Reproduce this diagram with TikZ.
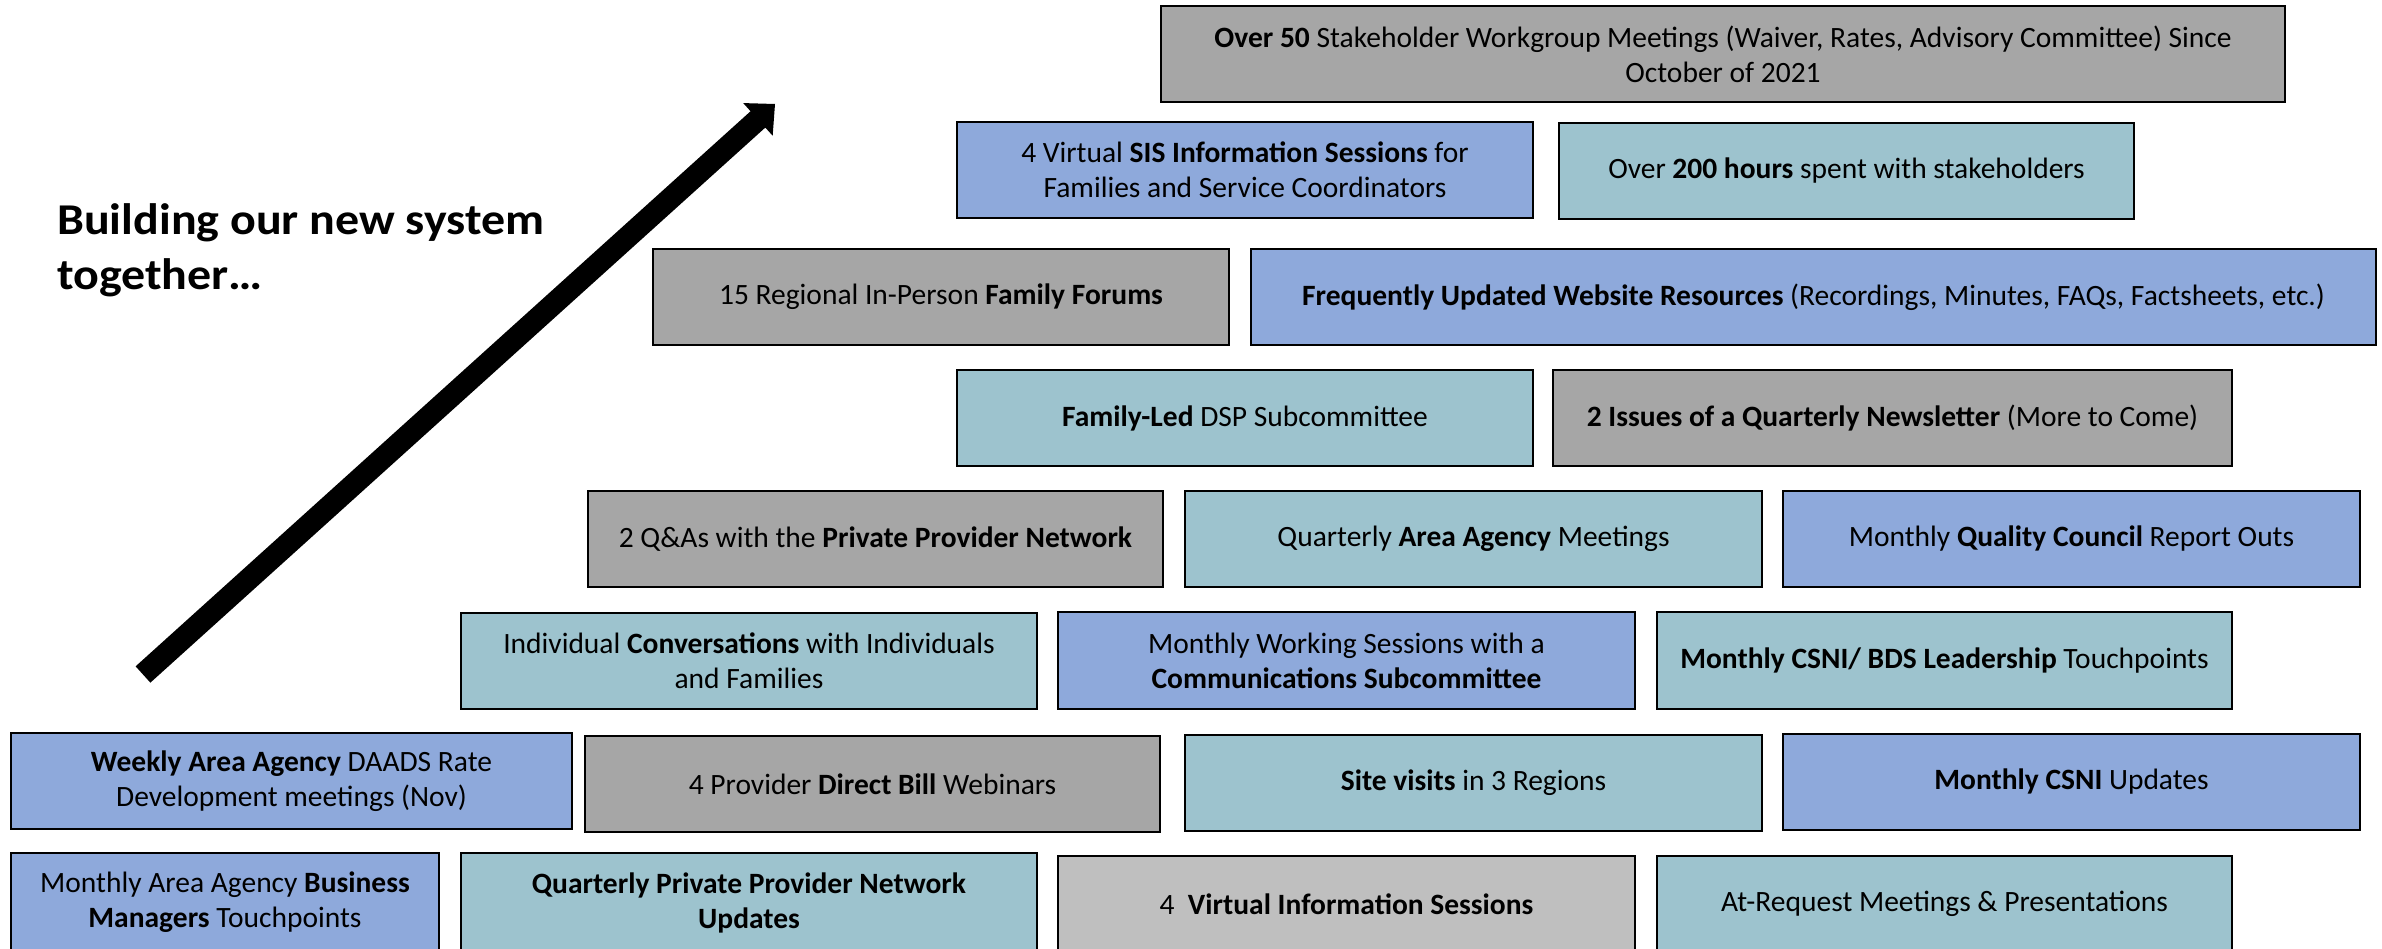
\documentclass[tikz,border=0pt]{standalone}
\usepackage{fontspec}
\setmainfont{Carlito}
\newfontfamily\headfont[FakeStretch=1.09]{Carlito}
\usetikzlibrary{calc}
\definecolor{cgray}{RGB}{166,166,166}
\definecolor{cblue}{RGB}{142,169,219}
\definecolor{cteal}{RGB}{157,195,206}
\definecolor{clight}{RGB}{191,191,191}
\tikzset{
  box/.style={draw=black, line width=2.5pt, inner sep=0pt, outer sep=0pt,
    align=center, font=\fontsize{29.5}{35}\selectfont},
  boxgray/.style={box, fill=cgray},
  boxblue/.style={box, fill=cblue},
  boxteal/.style={box, fill=cteal},
  boxlight/.style={box, fill=clight},
  title/.style={anchor=base west, align=left, inner sep=0pt,
    font=\headfont\fontsize{44}{55}\selectfont\bfseries},
}
% #1 name, #2 style, #3 left, #4 top, #5 right, #6 bottom, #7 text
\newcommand\bx[7]{\node (#1) [#2, minimum width={(#5-#3)*1pt},
  minimum height={(#6-#4)*1pt}] at ({(#3+#5)/2},{(#4+#6)/2}) {#7};}
\begin{document}
\begin{tikzpicture}[x=1pt, y=-1pt]
\useasboundingbox (0,0) rectangle (2382,949);
\clip (0,0) rectangle (2382,949);
\fill[white] (0,0) rectangle (2382,949);

% heading
\node (title) [title] at (57,290) {Building our new system\\together…};

% arrow
\coordinate (B) at (143,674.5);
\coordinate (T) at (775,104);
\coordinate (H) at ($(T)!23pt!(B)$);
\coordinate (H1) at ($(H)!11pt!90:(T)$);
\coordinate (H2) at ($(H)!11pt!-90:(T)$);
\coordinate (W1) at ($(H)!22pt!90:(T)$);
\coordinate (W2) at ($(H)!22pt!-90:(T)$);
\coordinate (B1) at ($(B)!11pt!-90:(T)$);
\coordinate (B2) at ($(B)!11pt!90:(T)$);
\fill[black] (B2) -- (H1) -- (W1) -- (T) -- (W2) -- (H2) -- (B1) -- cycle;

% row 1
\bx{a1}{boxgray}{1161}{6}{2285}{102}{\textbf{Over 50} Stakeholder Workgroup Meetings (Waiver, Rates, Advisory Committee) Since\\October of 2021}
% row 2
\bx{b1}{boxblue}{957}{122}{1533}{218}{4 Virtual \textbf{SIS Information Sessions} for\\Families and Service Coordinators}
\bx{b2}{boxteal}{1559}{123}{2134}{219}{Over \textbf{200 hours} spent with stakeholders}
% row 3
\bx{c1}{boxgray}{653}{249}{1229}{345}{15 Regional In-Person \textbf{Family Forums}}
\bx{c2}{boxblue}{1251}{249}{2376}{345}{\textbf{Frequently Updated Website Resources} (Recordings, Minutes, FAQs, Factsheets, etc.)}
% row 4
\bx{d1}{boxteal}{957}{370}{1533}{466}{\textbf{Family-Led} DSP Subcommittee}
\bx{d2}{boxgray}{1553}{370}{2232}{466}{\textbf{2 Issues of a Quarterly Newsletter} (More to Come)}
% row 5
\bx{e1}{boxgray}{588}{491}{1163}{587}{2 Q\&As with the \textbf{Private Provider Network}}
\bx{e2}{boxteal}{1185}{491}{1762}{587}{Quarterly \textbf{Area Agency} Meetings}
\bx{e3}{boxblue}{1783}{491}{2360}{587}{Monthly \textbf{Quality Council} Report Outs}
% row 6
\bx{f1}{boxteal}{461}{613}{1037}{709}{Individual \textbf{Conversations} with Individuals\\and Families}
\bx{f2}{boxblue}{1058}{612}{1635}{709}{Monthly Working Sessions with a\\\textbf{Communications Subcommittee}}
\bx{f3}{boxteal}{1657}{612}{2232}{709}{\textbf{Monthly CSNI/ BDS Leadership} Touchpoints}
% row 7
\bx{g1}{boxblue}{11}{733}{572}{829}{\textbf{Weekly Area Agency} DAADS Rate\\Development meetings (Nov)}
\bx{g2}{boxgray}{585}{736}{1160}{832}{4 Provider \textbf{Direct Bill} Webinars}
\bx{g3}{boxteal}{1185}{735}{1762}{831}{\textbf{Site visits} in 3 Regions}
\bx{g4}{boxblue}{1783}{734}{2360}{830}{\textbf{Monthly CSNI} Updates}
% row 8
\bx{h1}{boxblue}{11}{853}{439}{952}{Monthly Area Agency \textbf{Business}\\\textbf{Managers} Touchpoints}
\bx{h2}{boxteal}{461}{853}{1037}{952}{\textbf{Quarterly Private Provider Network}\\\textbf{Updates}}
\bx{h3}{boxlight}{1058}{856}{1635}{952}{4\ \ \textbf{Virtual Information Sessions}}
\bx{h4}{boxteal}{1657}{856}{2232}{952}{At-Request Meetings \& Presentations}
\end{tikzpicture}
\end{document}
